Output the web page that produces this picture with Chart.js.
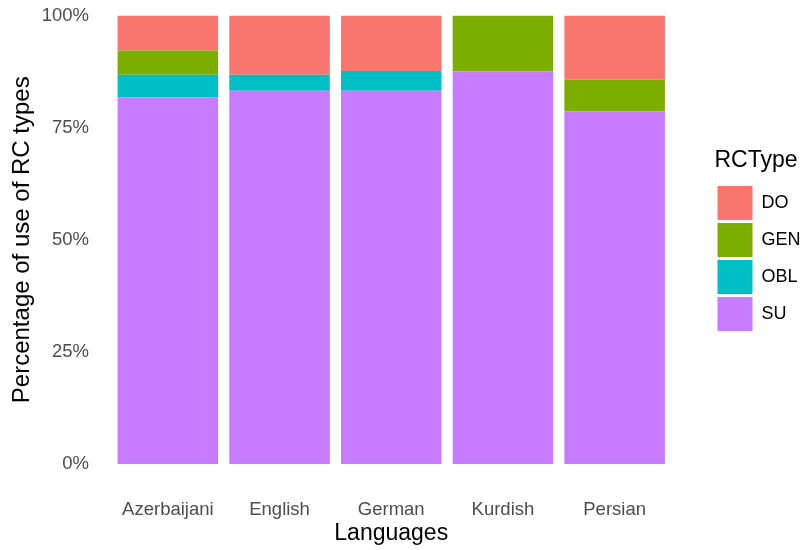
<!DOCTYPE html>
<html>
<head>
<meta charset="utf-8">
<title>RC types by language</title>
<script src="https://cdn.jsdelivr.net/npm/chart.js@4.4.0/dist/chart.umd.min.js"></script>
<style>
  html, body { margin: 0; padding: 0; background: #fff; }
  #wrap { width: 807px; height: 550px; }
</style>
</head>
<body>
<div id="wrap"><canvas id="rcChart" width="807" height="550"></canvas></div>
<script>
// valeurs (en %)
const languages = ['Azerbaijani', 'English', 'German', 'Kurdish', 'Persian'];
const rcTypes = ['SU', 'OBL', 'GEN', 'DO'];   // ordre d'empilement (bas -> haut)
const suValues = [81.8, 83.2, 83.2, 87.5, 78.6];
const oblValues = [5.0, 3.6, 4.4, 0, 0];
const genValues = [5.4, 0, 0, 12.5, 7.1];
const doValues = [7.8, 13.2, 12.4, 0, 14.3];
const yTicks = [0, 25, 50, 75, 100];

const colors = { SU: '#C77CFF', OBL: '#00BFC4', GEN: '#7CAE00', DO: '#F8766D' };
const seriesValues = { SU: suValues, OBL: oblValues, GEN: genValues, DO: doValues };

const fontFamily = '"Liberation Sans", Arial, sans-serif';

const datasets = rcTypes.map(t => ({
    label: t,
    data: seriesValues[t],
    backgroundColor: colors[t],
    borderWidth: 0,
    categoryPercentage: 0.9,
    barPercentage: 1.0
}));

const ctx = document.getElementById('rcChart').getContext('2d');
new Chart(ctx, {
    type: 'bar',
    data: { labels: languages, datasets: datasets },
    options: {
        responsive: false,
        animation: false,
        layout: { padding: { top: 15.5, right: -3.5, bottom: 0, left: 0 } },
        plugins: {
            tooltip: { enabled: false },
            legend: {
                position: 'right',
                align: 'start',
                reverse: true,
                title: {
                    display: true,
                    text: 'RCType',
                    position: 'start',
                    color: '#000',
                    padding: { top: 134, bottom: 6 },
                    font: { family: fontFamily, size: 23 }
                },
                labels: {
                    boxWidth: 35,
                    boxHeight: 34,
                    padding: 3,
                    color: '#000',
                    font: { family: fontFamily, size: 18 }
                }
            }
        },
        scales: {
            x: {
                stacked: true,
                offset: true,
                grid: { display: false, drawTicks: false },
                border: { display: false },
                ticks: { color: '#4D4D4D', padding: 35, font: { family: fontFamily, size: 18.5 } },
                title: {
                    display: true,
                    text: 'Languages',
                    color: '#000',
                    padding: { top: 0, bottom: 3 },
                    font: { family: fontFamily, size: 23 }
                },
                afterFit: function(scale) { scale.height = 86; }
            },
            y: {
                stacked: true,
                min: 0,
                max: 100,
                grid: { display: false, drawTicks: false },
                border: { display: false },
                afterBuildTicks: function(scale) { scale.ticks = yTicks.map(v => ({ value: v })); },
                ticks: {
                    color: '#4D4D4D',
                    padding: 23,
                    font: { family: fontFamily, size: 18.5 },
                    callback: v => v + '%'
                },
                title: {
                    display: true,
                    text: 'Percentage of use of RC types',
                    color: '#000',
                    padding: { top: 8, bottom: 0 },
                    font: { family: fontFamily, size: 24 }
                },
                afterFit: function(scale) {
                    scale.width = 112;
                    scale.paddingTop = 0;
                    scale.paddingBottom = 0;
                }
            },
            // espace vide entre le graphique et la légende
            spacer: {
                type: 'linear',
                position: 'right',
                grid: { display: false, drawTicks: false },
                border: { display: false },
                ticks: { display: false },
                afterFit: function(scale) {
                    scale.width = 44;
                    scale.paddingTop = 0;
                    scale.paddingBottom = 0;
                }
            }
        }
    }
});
</script>
</body>
</html>
